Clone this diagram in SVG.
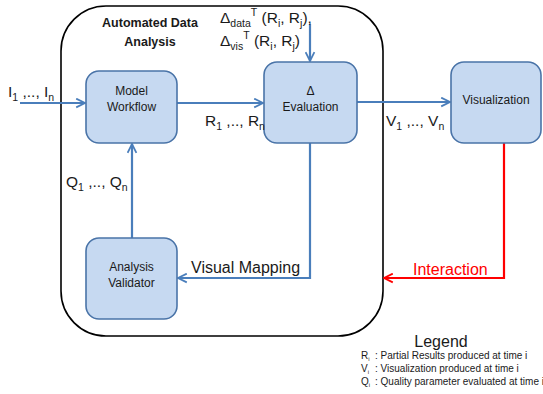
<svg xmlns="http://www.w3.org/2000/svg" width="543" height="394" viewBox="0 0 543 394">
<style>
text{font-family:"Liberation Sans",Arial,sans-serif;fill:#1a1a1a}
.box{fill:#C6D9F1;stroke:#4A74A8;stroke-width:1.6}
.bl{font-size:12px;text-anchor:middle}
.lab{font-size:15.5px}
.sub{font-size:10.5px}
.conn{fill:none;stroke:#4A7EBB;stroke-width:2.2}
.red{fill:none;stroke:#FF0000;stroke-width:2.2}
.leg{font-size:10px}
</style>
<defs>
<marker id="ab" viewBox="0 0 10 10" refX="9" refY="5" markerWidth="5" markerHeight="5" orient="auto" markerUnits="strokeWidth">
<path d="M1,1 L9,5 L1,9" fill="none" stroke="#4A7EBB" stroke-width="1.6"/>
</marker>
<marker id="ar" viewBox="0 0 10 10" refX="9" refY="5" markerWidth="5" markerHeight="5" orient="auto" markerUnits="strokeWidth">
<path d="M1,1 L9,5 L1,9" fill="none" stroke="#FF0000" stroke-width="1.6"/>
</marker>
</defs>
<rect id="container" x="61" y="6" width="322" height="330" rx="45" ry="45" fill="none" stroke="#000" stroke-width="1.6"/>
<text x="150" y="27" font-size="12.5" font-weight="bold" text-anchor="middle">Automated Data</text>
<text x="150" y="46" font-size="12.5" font-weight="bold" text-anchor="middle">Analysis</text>
<g id="connectors">
<line class="conn" x1="20" y1="103" x2="85" y2="103" marker-end="url(#ab)"/>
<line class="conn" x1="177" y1="103" x2="263" y2="103" marker-end="url(#ab)"/>
<line class="conn" x1="357" y1="102" x2="450" y2="102" marker-end="url(#ab)"/>
<line class="conn" x1="310" y1="24" x2="310" y2="61" marker-end="url(#ab)"/>
<polyline class="conn" points="310,143 310,278 178,278" marker-end="url(#ab)"/>
<line class="conn" x1="132" y1="238" x2="132" y2="144" marker-end="url(#ab)"/>
<polyline class="red" points="504,143 504,278 384,278" marker-end="url(#ar)"/>
</g>
<g id="model-workflow">
<rect class="box" x="86" y="71" width="91" height="72" rx="13"/>
<text class="bl" x="131.5" y="95">Model</text>
<text class="bl" x="131.5" y="111">Workflow</text>
</g>
<g id="delta-evaluation">
<rect class="box" x="264" y="62" width="93" height="81" rx="13"/>
<text class="bl" x="310.5" y="95">Δ</text>
<text class="bl" x="310.5" y="111">Evaluation</text>
</g>
<g id="visualization">
<rect class="box" x="451" y="62" width="90" height="81" rx="13"/>
<text class="bl" x="496" y="104">Visualization</text>
</g>
<g id="analysis-validator">
<rect class="box" x="86" y="238" width="91" height="81" rx="13"/>
<text class="bl" x="131.5" y="271">Analysis</text>
<text class="bl" x="131.5" y="287">Validator</text>
</g>
<g id="labels">
<text class="lab" x="8" y="97" font-size="16">I<tspan class="sub" dy="4">1</tspan><tspan dy="-4"> ,.., I</tspan><tspan class="sub" dy="4">n</tspan></text>
<text class="lab" x="205" y="126">R<tspan class="sub" dy="4">1</tspan><tspan dy="-4"> ,.., R</tspan><tspan class="sub" dy="4">n</tspan></text>
<text class="lab" x="386" y="126">V<tspan class="sub" dy="4">1</tspan><tspan dy="-4"> ,.., V</tspan><tspan class="sub" dy="4">n</tspan></text>
<text class="lab" x="66" y="187">Q<tspan class="sub" dy="4">1</tspan><tspan dy="-4"> ,.., Q</tspan><tspan class="sub" dy="4">n</tspan></text>
<text class="lab" x="220" y="23">Δ<tspan class="sub" dy="4">data</tspan><tspan class="sub" dy="-11">T</tspan><tspan dy="7"> (R</tspan><tspan class="sub" dy="4">i</tspan><tspan dy="-4">, R</tspan><tspan class="sub" dy="4">j</tspan><tspan dy="-4">),</tspan></text>
<text class="lab" x="220" y="46">Δ<tspan class="sub" dy="4">vis</tspan><tspan class="sub" dy="-11">T</tspan><tspan dy="7"> (R</tspan><tspan class="sub" dy="4">i</tspan><tspan dy="-4">, R</tspan><tspan class="sub" dy="4">j</tspan><tspan dy="-4">)</tspan></text>
<text x="191" y="273" font-size="16">Visual Mapping</text>
<text x="413" y="275" font-size="16" style="fill:#FF0000">Interaction</text>
</g>
<g id="legend">
<text x="441" y="347" font-size="16" text-anchor="middle">Legend</text>
<text class="leg" x="361" y="359">R<tspan font-size="6" dy="2">i</tspan><tspan dy="-2" x="375">: Partial Results produced at time i</tspan></text>
<text class="leg" x="361" y="372">V<tspan font-size="6" dy="2">i</tspan><tspan dy="-2" x="375">: Visualization produced at time i</tspan></text>
<text class="leg" x="361" y="385">Q<tspan font-size="6" dy="2">i</tspan><tspan dy="-2" x="375">: Quality parameter evaluated at time i</tspan></text>
</g>
</svg>
